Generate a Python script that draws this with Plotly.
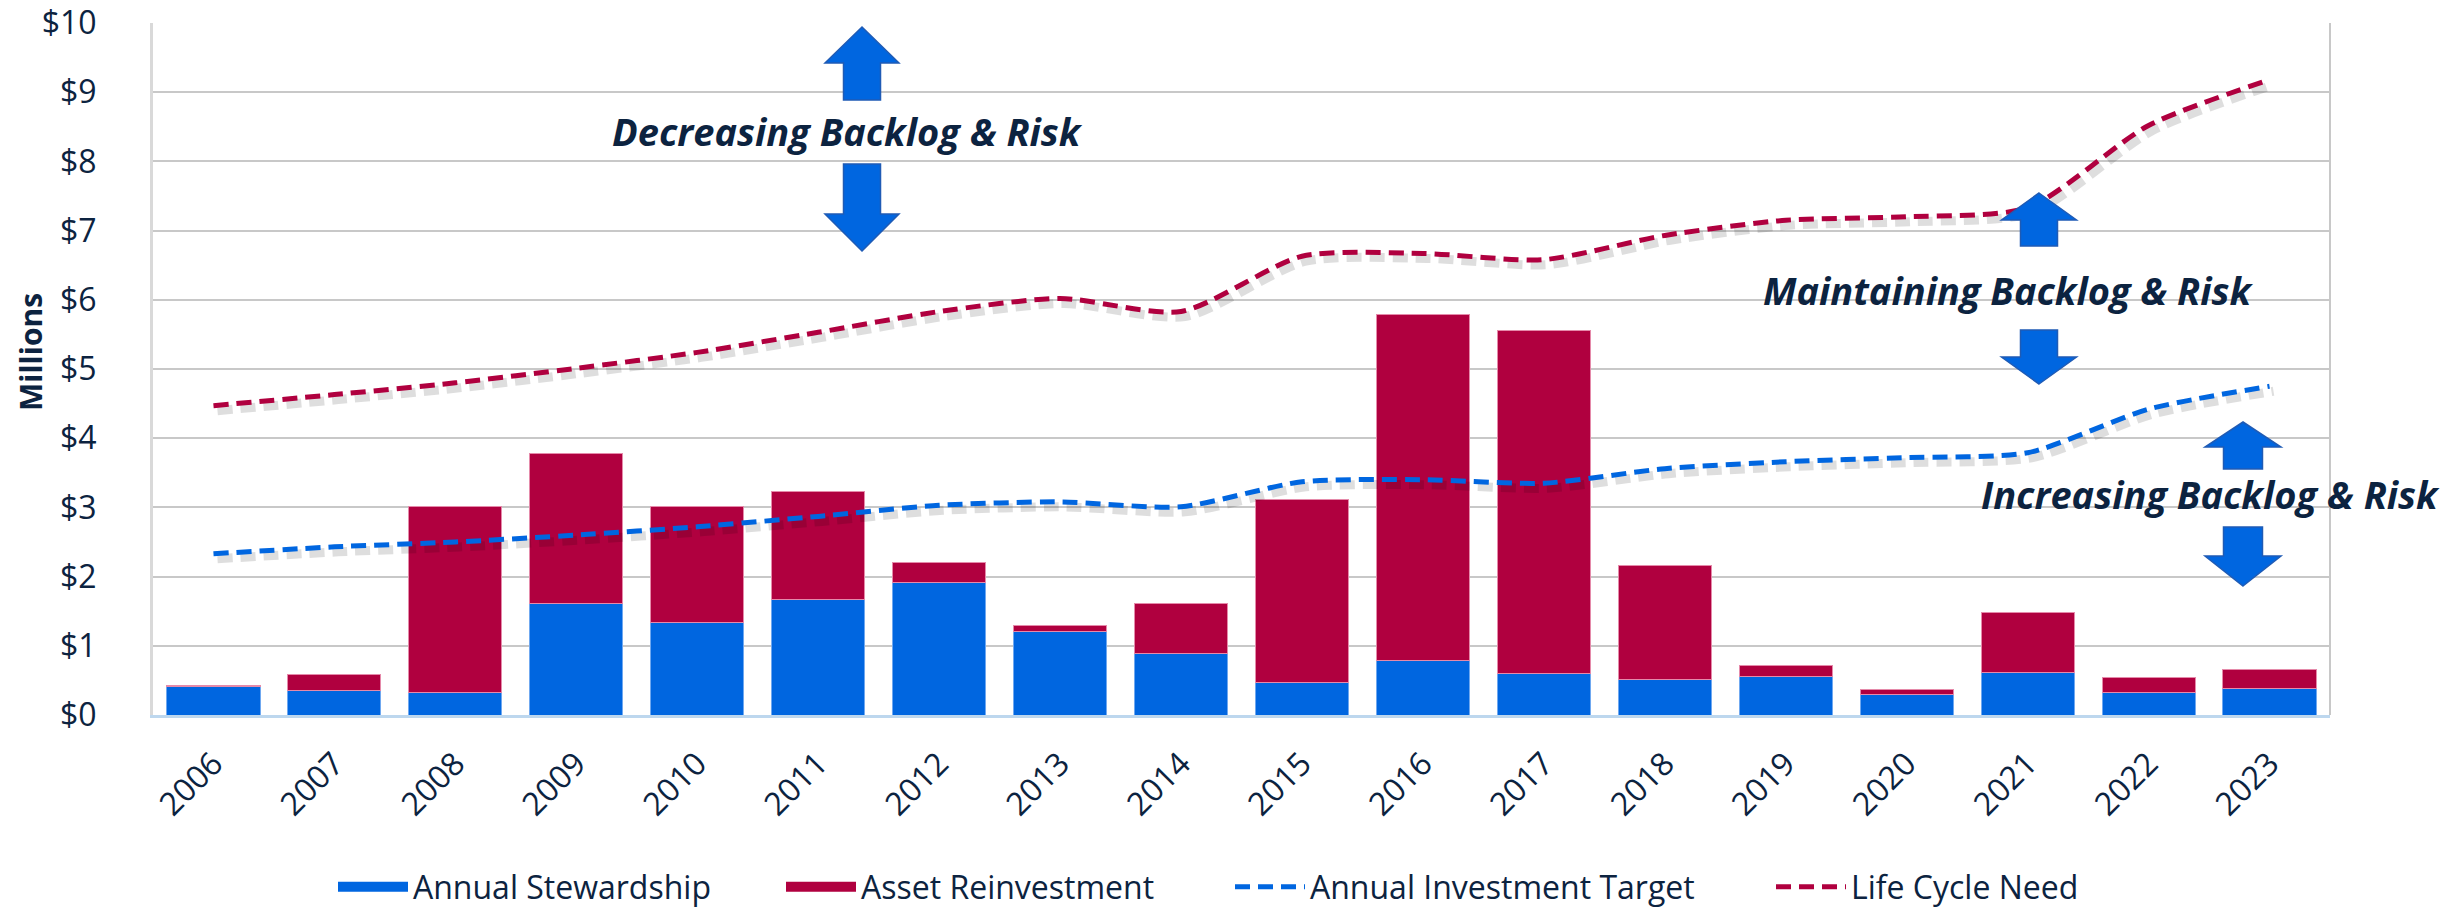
import plotly.graph_objects as go

years = [str(y) for y in range(2006, 2024)]
annual_stewardship = [0.41, 0.35, 0.33, 1.61, 1.33, 1.67, 1.92, 1.20, 0.89, 0.47,
                      0.79, 0.60, 0.52, 0.56, 0.29, 0.62, 0.32, 0.38]
asset_reinvestment = [0.02, 0.23, 2.68, 2.17, 1.69, 1.56, 0.28, 0.10, 0.72, 2.64,
                      5.00, 4.95, 1.64, 0.15, 0.08, 0.86, 0.22, 0.28]
annual_investment_target = [2.33, 2.43, 2.50, 2.60, 2.72, 2.87, 3.03, 3.08, 3.01, 3.37,
                            3.40, 3.35, 3.56, 3.66, 3.72, 3.79, 4.42, 4.75]
life_cycle_need = [4.47, 4.63, 4.80, 5.01, 5.24, 5.53, 5.83, 6.02, 5.83, 6.63,
                   6.67, 6.58, 6.93, 7.15, 7.20, 7.33, 8.52, 9.18]
y_ticks = list(range(0, 11))
y_tick_labels = ["$" + str(v) for v in y_ticks]

BLUE = "#0066E0"
RED = "#B0003F"
NAVY = "#0C2340"
FONT = "Open Sans"

W, H = 2441, 907
L, R, T, B = 153, 2330, 23, 715  # plot area in pixels


def px(x):
    return (x - L) / (R - L)


def py(y):
    return (B - y) / (B - T)


fig = go.Figure()

# bars
fig.add_trace(go.Bar(x=years, y=annual_stewardship, name="Annual Stewardship",
                     marker=dict(color=BLUE, line=dict(color="#6FA8F0", width=1)),
                     showlegend=False, xaxis="x", yaxis="y"))
fig.add_trace(go.Bar(x=years, y=asset_reinvestment, name="Asset Reinvestment",
                     marker=dict(color=RED, line=dict(color="#E58AAA", width=1)),
                     showlegend=False, xaxis="x", yaxis="y"))

# shadows of the lines (on offset overlay axes)
for vals in (annual_investment_target, life_cycle_need):
    fig.add_trace(go.Scatter(x=years, y=vals, mode="lines", showlegend=False, hoverinfo="skip",
                             line=dict(color="rgba(0,0,0,0.13)", width=9, shape="spline",
                                       smoothing=0.7, dash="15px,8px"),
                             xaxis="x2", yaxis="y2"))

# lines
fig.add_trace(go.Scatter(x=years, y=annual_investment_target, mode="lines",
                         name="Annual Investment Target", legend="legend3",
                         line=dict(color=BLUE, width=5, shape="spline", smoothing=0.7,
                                   dash="15px,8px"),
                         xaxis="x3", yaxis="y3"))
fig.add_trace(go.Scatter(x=years, y=life_cycle_need, mode="lines",
                         name="Life Cycle Need", legend="legend4",
                         line=dict(color=RED, width=5, shape="spline", smoothing=0.7,
                                   dash="15px,8px"),
                         xaxis="x3", yaxis="y3"))

# legend swatches for bars
fig.add_trace(go.Scatter(x=[None], y=[None], mode="lines", name="Annual Stewardship",
                         legend="legend", line=dict(color=BLUE, width=21),
                         xaxis="x3", yaxis="y3"))
fig.add_trace(go.Scatter(x=[None], y=[None], mode="lines", name="Asset Reinvestment",
                         legend="legend2", line=dict(color=RED, width=21),
                         xaxis="x3", yaxis="y3"))

tickfont = dict(family=FONT, size=32, color=NAVY)
n = len(years)
xr = [-0.5, n - 0.5]
dx = 4 / ((R - L) / n)
dy = 5 / ((B - T) / 10)

legend_common = dict(orientation="h", yanchor="middle", y=py(887), xanchor="left",
                     font=dict(family=FONT, size=32, color=NAVY), itemwidth=70,
                     bgcolor="rgba(0,0,0,0)")

fig.update_layout(
    width=W, height=H,
    margin=dict(l=L, r=W - R, t=T, b=H - B, autoexpand=False),
    paper_bgcolor="white", plot_bgcolor="white",
    barmode="stack", bargap=0.23,
    xaxis=dict(type="category", categoryarray=years, range=xr, tickangle=-45,
               tickfont=tickfont, showgrid=False, showline=True, linecolor="#BDD7EE",
               linewidth=3, ticks="outside", ticklen=0, ticklabelstandoff=14, zeroline=False),
    yaxis=dict(range=[0, 10], tickvals=y_ticks, ticktext=y_tick_labels, tickfont=tickfont,
               showgrid=True, gridcolor="#C8C8C8", gridwidth=2, showline=True,
               linecolor="#D9D9D9", linewidth=3, ticks="outside", ticklen=0,
               ticklabelstandoff=47, zeroline=False),
    xaxis2=dict(type="category", categoryarray=years, range=[xr[0] - dx, xr[1] - dx],
                overlaying="x", visible=False),
    yaxis2=dict(range=[dy, 10 + dy], overlaying="y", visible=False),
    xaxis3=dict(type="category", categoryarray=years, range=xr, overlaying="x", visible=False),
    yaxis3=dict(range=[0, 10], overlaying="y", visible=False),
    legend=dict(legend_common, x=px(333)),
    legend2=dict(legend_common, x=px(781)),
    legend3=dict(legend_common, x=px(1230)),
    legend4=dict(legend_common, x=px(1771)),
)

# y-axis title
fig.add_annotation(text="<b>Millions</b>", x=px(30), y=py(352), xref="paper", yref="paper",
                   xanchor="center", yanchor="middle", textangle=-90, showarrow=False,
                   font=dict(family=FONT, size=30, color=NAVY))

# right border of plot area
fig.add_shape(type="line", xref="paper", yref="paper", x0=1, x1=1, y0=0, y1=1,
              line=dict(color="#C8C8C8", width=2), layer="below")

# annotations
ann_font = dict(family=FONT, size=38, color=NAVY, weight="bold", style="italic")
for text, cx, cy in [("Decreasing Backlog & Risk", 847, 131),
                     ("Maintaining Backlog & Risk", 2008, 290),
                     ("Increasing Backlog & Risk", 2210, 494)]:
    fig.add_annotation(text=text, x=px(cx), y=py(cy), xref="paper", yref="paper",
                       xanchor="center", yanchor="middle", showarrow=False, font=ann_font)


def arrow_path(cx, start, hb, tip, hw, sw):
    pts = [(cx, tip), (cx + hw, hb), (cx + sw, hb), (cx + sw, start),
           (cx - sw, start), (cx - sw, hb), (cx - hw, hb)]
    return "M " + " L ".join(f"{px(x):.5f},{py(y):.5f}" for x, y in pts) + " Z"


arrows = [
    (862, 100, 63, 27, 37, 18.5),
    (862, 164, 214, 251, 37, 18.5),
    (2039, 246, 220, 193, 37.5, 18.5),
    (2039, 330, 357, 384, 37.5, 18.5),
    (2243, 469, 447, 422, 38, 19.5),
    (2243, 527, 556, 586, 38, 19.5),
]
for a in arrows:
    fig.add_shape(type="path", xref="paper", yref="paper", path=arrow_path(*a),
                  fillcolor=BLUE, line=dict(color="#1F5BB5", width=1.5), layer="above")

fig.write_html("out.html", config={"displayModeBar": False},
               post_script="document.body.style.margin='0px';")
